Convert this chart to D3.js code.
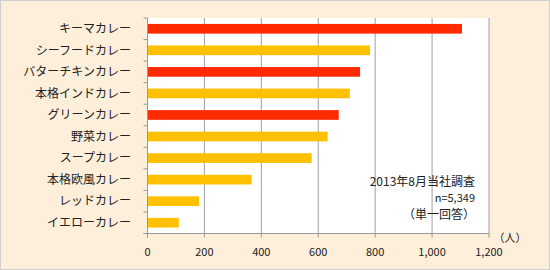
<!DOCTYPE html>
<html>
<head>
<meta charset="utf-8">
<script src="https://cdn.jsdelivr.net/npm/d3@7"></script>
<style>
  body { margin: 0; background: #fff; }
  text { font-family: "Noto Sans CJK JP", sans-serif; fill: #222; }
</style>
</head>
<body>
<div id="root"></div>
<script>
const width = 550;
const height = 270;

const categories = ["キーマカレー", "シーフードカレー", "バターチキンカレー", "本格インドカレー", "グリーンカレー",
  "野菜カレー", "スープカレー", "本格欧風カレー", "レッドカレー", "イエローカレー"];
const values = [1105, 782, 747, 711, 672, 633, 577, 366, 181, 110];
const highlight = [true, false, true, false, true, false, false, false, false, false];
const xTicks = [0, 200, 400, 600, 800, 1000, 1200];
const notes = ["2013年8月当社調査", "n=5,349", "（単一回答）"];

const plot = { left: 147.5, right: 489, top: 18, bottom: 233.5 };

const svg = d3.select("#root").append("svg")
  .attr("width", width)
  .attr("height", height);

// background panel
svg.append("rect")
  .attr("x", 0.5).attr("y", 0.5)
  .attr("width", width - 1).attr("height", height - 1)
  .attr("fill", "#fdefd9")
  .attr("stroke", "#cfcfcf");

svg.append("rect")
  .attr("x", plot.left).attr("y", plot.top)
  .attr("width", plot.right - plot.left).attr("height", plot.bottom - plot.top)
  .attr("fill", "#fff");

var x = d3.scaleLinear().domain([0, 1200]).range([plot.left, plot.right]);
var y = d3.scaleBand().domain(categories).range([plot.top, plot.bottom]).paddingInner(0.55).paddingOuter(0.275);
var yBand = d3.scaleBand().domain(categories).range([plot.top, plot.bottom]);

// gridlines
svg.selectAll("line.grid")
  .data(xTicks.slice(1))
  .enter()
  .append("line")
  .attr("class", "grid")
  .attr("x1", d => x(d)).attr("x2", d => x(d))
  .attr("y1", plot.top).attr("y2", plot.bottom)
  .attr("stroke", "#a0a0a0")
  .attr("stroke-width", 1);

// bars
svg.selectAll("rect.bar")
  .data(categories)
  .enter()
  .append("rect")
  .attr("class", "bar")
  .attr("x", x(0))
  .attr("y", d => y(d))
  .attr("width", (d, i) => x(values[i]) - x(0))
  .attr("height", y.bandwidth())
  .attr("fill", (d, i) => highlight[i] ? "#ff2a00" : "#ffc000");

// y axis
svg.append("line")
  .attr("x1", plot.left).attr("x2", plot.left)
  .attr("y1", plot.top).attr("y2", plot.bottom + 4)
  .attr("stroke", "#999");

var bounds = categories.map(d => yBand(d)).concat([plot.bottom]);
svg.selectAll("line.ytick")
  .data(bounds)
  .enter()
  .append("line")
  .attr("class", "ytick")
  .attr("x1", plot.left - 4).attr("x2", plot.left)
  .attr("y1", d => d).attr("y2", d => d)
  .attr("stroke", "#999");

svg.selectAll("text.ylabel")
  .data(categories)
  .enter()
  .append("text")
  .attr("class", "ylabel")
  .attr("x", 131)
  .attr("y", d => yBand(d) + yBand.bandwidth() / 2)
  .attr("dy", "0.35em")
  .attr("text-anchor", "end")
  .attr("font-size", "12px")
  .text(d => d);

// x axis
svg.append("line")
  .attr("x1", plot.left - 4).attr("x2", plot.right)
  .attr("y1", plot.bottom).attr("y2", plot.bottom)
  .attr("stroke", "#999");

svg.selectAll("line.xtick")
  .data(xTicks)
  .enter()
  .append("line")
  .attr("class", "xtick")
  .attr("x1", d => x(d)).attr("x2", d => x(d))
  .attr("y1", plot.bottom).attr("y2", plot.bottom + 4)
  .attr("stroke", "#999");

svg.selectAll("text.xlabel")
  .data(xTicks)
  .enter()
  .append("text")
  .attr("class", "xlabel")
  .attr("x", d => x(d))
  .attr("y", 252)
  .attr("dy", "0.35em")
  .attr("text-anchor", "middle")
  .attr("font-size", "11px")
  .text(d => d3.format(",")(d));

svg.append("text")
  .attr("x", 510).attr("y", 238)
  .attr("dy", "0.35em")
  .attr("text-anchor", "middle")
  .attr("font-size", "11px")
  .text("（人）");

// note
svg.selectAll("text.note")
  .data(notes)
  .enter()
  .append("text")
  .attr("class", "note")
  .attr("x", 475)
  .attr("y", (d, i) => 182 + i * 16.5)
  .attr("dy", "0.35em")
  .attr("text-anchor", "end")
  .attr("font-size", (d, i) => i == 1 ? "11px" : "12px")
  .text(d => d);
</script>
</body>
</html>
